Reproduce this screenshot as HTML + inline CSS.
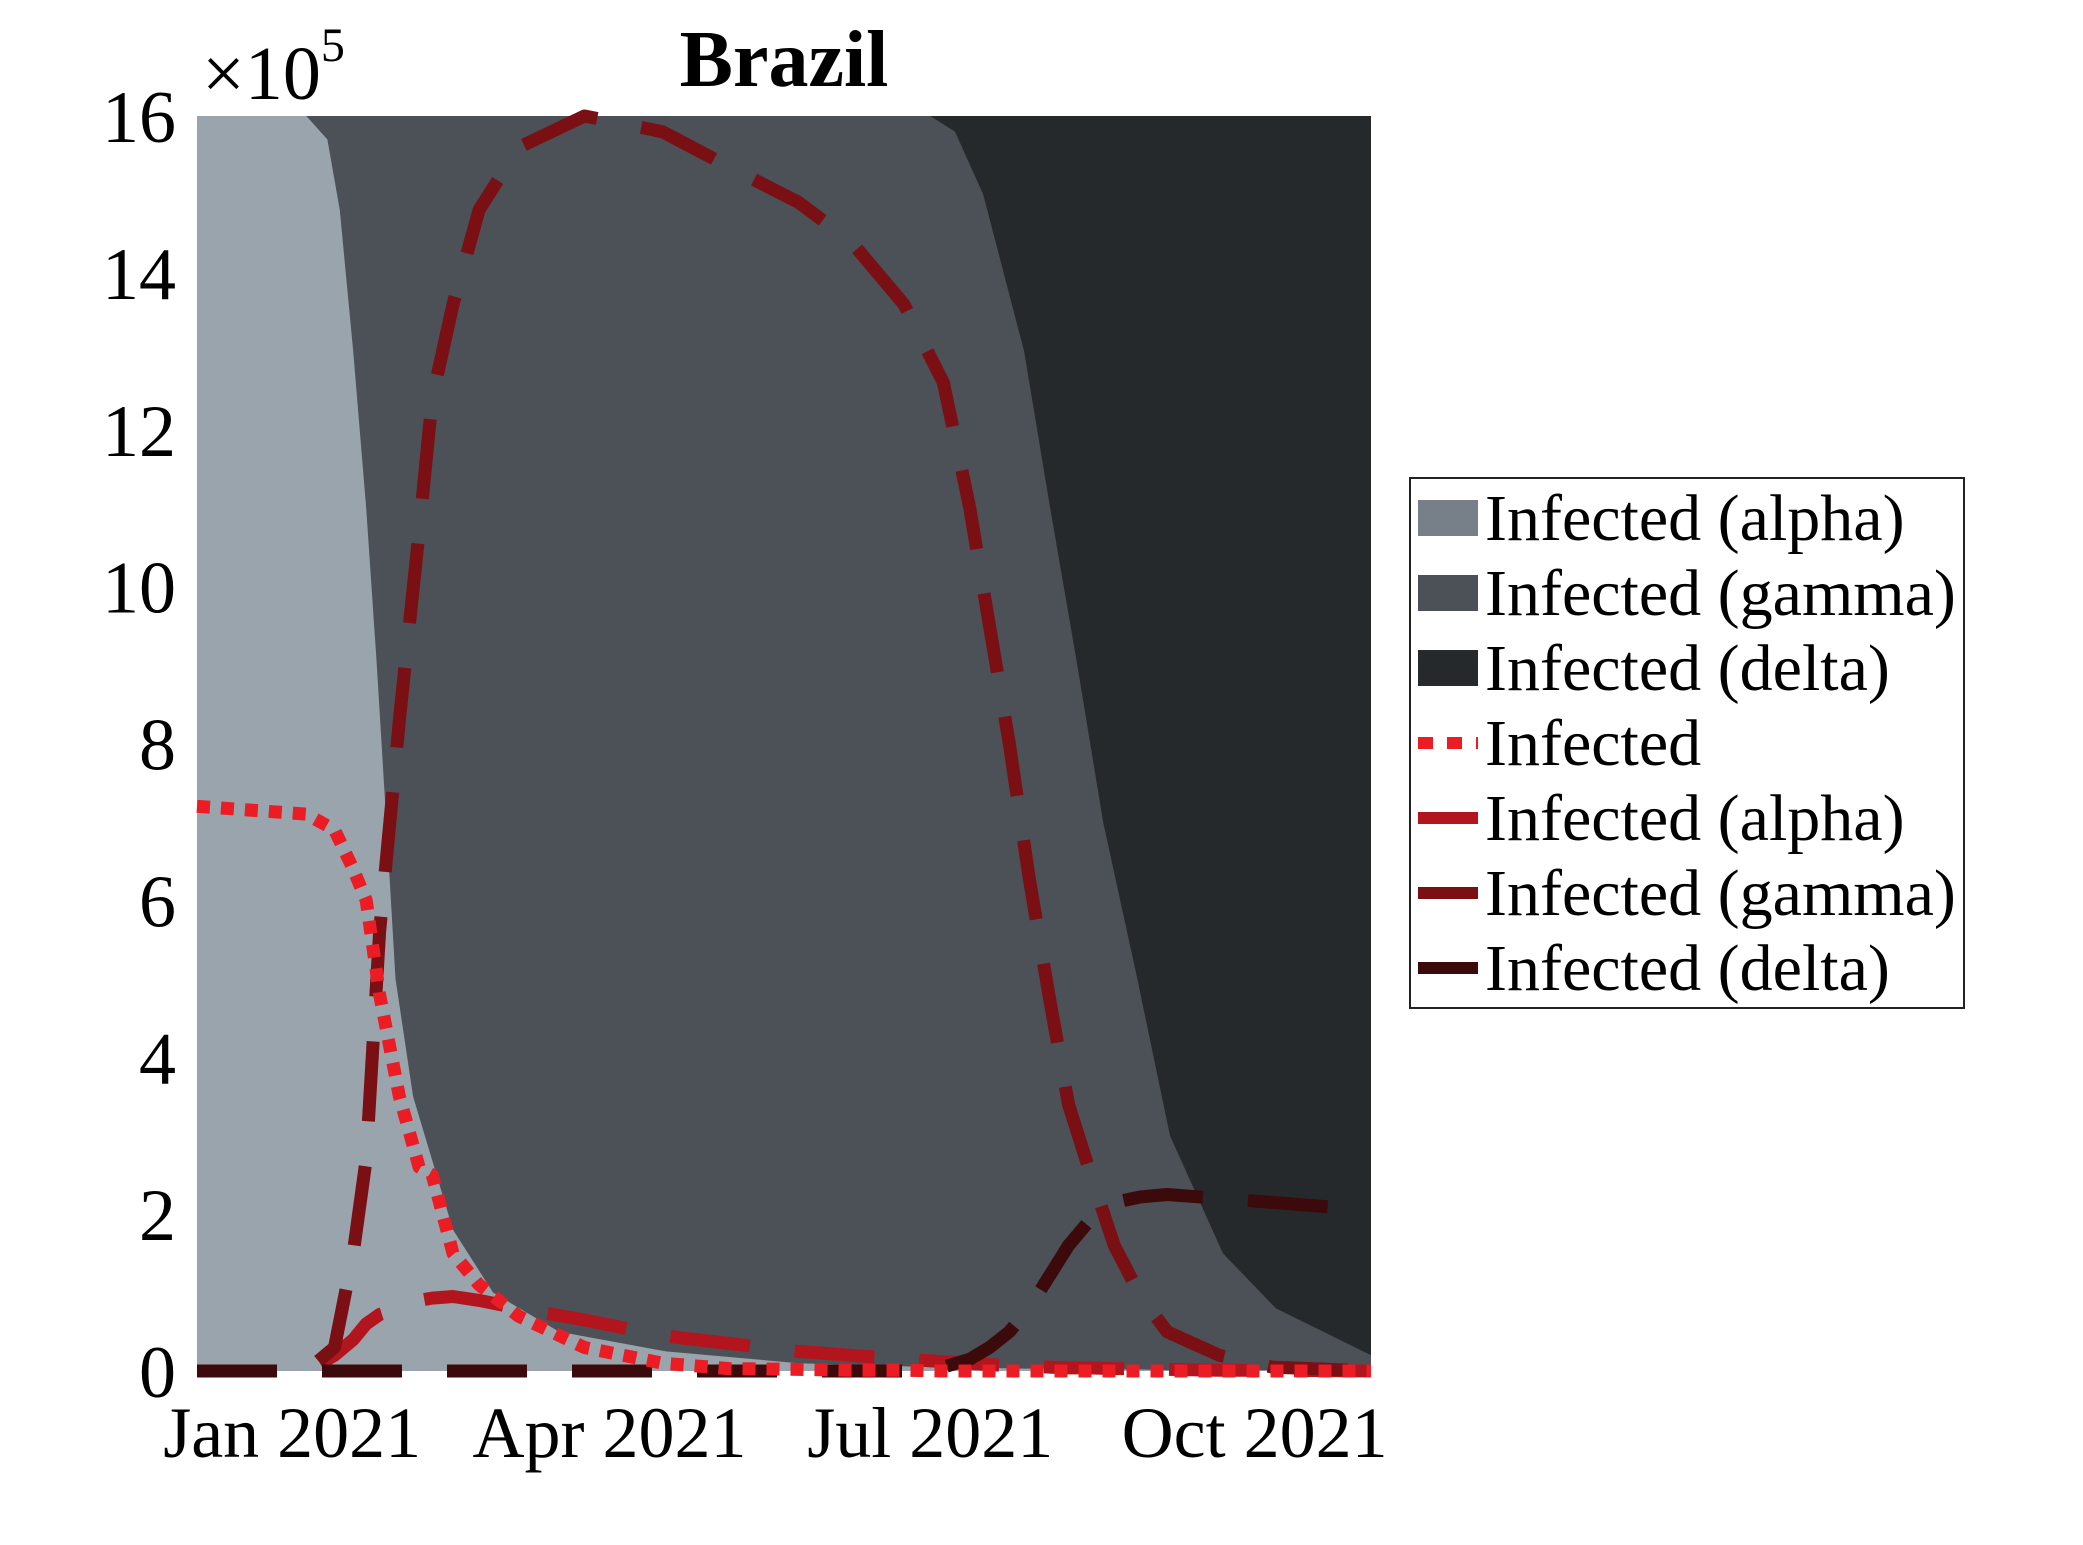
<!DOCTYPE html>
<html><head><meta charset="utf-8"><style>
body{margin:0;background:#fff}
svg text{font-family:"Liberation Serif",serif}
</style></head><body>
<svg width="2083" height="1540" viewBox="0 0 2083 1540" xmlns="http://www.w3.org/2000/svg">
<g id="plot"></g>
<text x="784" y="86" font-size="80" font-weight="bold" text-anchor="middle">Brazil</text>
<text x="202" y="99" font-size="76">×10<tspan font-size="48" dy="-38">5</tspan></text>
<g id="yticks"></g>
<g id="xticks"></g>
<g id="legend"></g>
</svg>
<script>
const NS='http://www.w3.org/2000/svg';
const areaDays=[-27,4,10,13.5,17.3,21,24,26.7,29.3,34.3,45.6,57,75.7,106,143.6,181,188,196,207.6,215,222.7,230,239.7,249,264,279,306];
const alphaArea=[16,16,15.7,14.8,13,11,9,7,5,3.5,1.8,1.0,0.5,0.25,0.1,0.05,0.04,0.04,0.03,0.03,0.02,0.02,0.02,0.01,0.01,0.01,0];
const topGammaArea=[16,16,16,16,16,16,16,16,16,16,16,16,16,16,16,16,15.8,15,13,11,9,7,5,3,1.5,0.8,0.2];
const lineDays=[-27,4,12,17.3,21,24.8,30.4,36,39.7,45.6,53,64.2,82.9,105,124,143.6,158.5,173.5,184.7,192.2,197.8,203.4,209,214.6,220.2,225.8,233.2,240.7,248.2,263,278,306];
const totalLine=[7.2,7.1,6.9,6.4,6.0,4.8,3.5,2.6,2.5,1.5,1.1,0.7,0.3,0.1,0.03,0.02,0.01,0.01,0,0,0,0,0,0,0,0,0,0,0,0,0,0];
const alphaLine=[0,0,0.2,0.4,0.6,0.72,0.8,0.9,0.93,0.95,0.9,0.8,0.65,0.45,0.35,0.25,0.2,0.15,0.12,0.1,0.08,0.07,0.06,0.05,0.04,0.04,0.03,0.03,0.02,0.01,0.01,0];
const gammaLine=[0,0,0.3,1.5,2.7,5.6,8.3,10.7,12.4,13.6,14.8,15.6,16.0,15.8,15.35,14.9,14.4,13.6,12.6,11.0,9.5,8.0,6.3,4.8,3.4,2.6,1.6,0.95,0.5,0.2,0.05,0];
const deltaLine=[0,0,0,0,0,0,0,0,0,0,0,0,0,0,0,0,0,0,0.05,0.15,0.3,0.5,0.8,1.2,1.6,1.9,2.15,2.22,2.25,2.2,2.15,2.05];
const yTicks=[0,2,4,6,8,10,12,14,16];
const xTickDays=[0,90,181,273];
const xTickLabels=['Jan 2021','Apr 2021','Jul 2021','Oct 2021'];
const legendLabels=['Infected (alpha)','Infected (gamma)','Infected (delta)','Infected','Infected (alpha)','Infected (gamma)','Infected (delta)'];

const X0=197,X1=1371,Y0=1371,Y1=116,D0=-27,D1=306;
const xs=d=>X0+(d-D0)/(D1-D0)*(X1-X0);
const ys=v=>Y0-v/16*(Y0-Y1);
function el(t,a,p){const e=document.createElementNS(NS,t);for(const k in a)e.setAttribute(k,a[k]);p.appendChild(e);return e;}
const plot=document.getElementById('plot');
function ptsOf(d,v){return d.map((x,i)=>xs(x).toFixed(1)+','+ys(v[i]).toFixed(1));}
let a=el('rect',{x:X0,y:Y1,width:X1-X0,height:Y0-Y1,fill:'#26292c'},plot);

let g=el('polygon',{points:ptsOf(areaDays,topGammaArea).join(' ')+` ${X1},${Y0} ${X0},${Y0}`,fill:'#4c5157'},plot);

let al=el('polygon',{points:ptsOf(areaDays,alphaArea).join(' ')+` ${X1},${Y0} ${X0},${Y0}`,fill:'#99a4ad'},plot);

const series=[[alphaLine,'#b3151f','80 45','line-alpha'],[gammaLine,'#7a0f14','80 45','line-gamma'],[deltaLine,'#3d0a0c','80 45','line-delta'],[totalLine,'#ec1c24','13 11','line-total']];
series.forEach(s=>{const p=el('polyline',{points:ptsOf(lineDays,s[0]).join(' '),fill:'none',stroke:s[1],'stroke-width':13,'stroke-dasharray':s[2],'stroke-linejoin':'round'},plot);
});
const yt=document.getElementById('yticks');
yTicks.forEach(v=>{const t=el('text',{x:176,y:ys(v)+26,'font-size':74,'text-anchor':'end'},yt);t.textContent=v;
});
const xt=document.getElementById('xticks');
xTickDays.forEach((d,i)=>{const t=el('text',{x:xs(d),y:1457,'font-size':72,'text-anchor':'middle'},xt);t.textContent=xTickLabels[i];
});
const lg=document.getElementById('legend');
let box=el('rect',{x:1410,y:478,width:554,height:530,fill:'#fff',stroke:'#222','stroke-width':2},lg);

const sw=['#777f88','#4c5157','#26292c','#ec1c24','#b3151f','#7a0f14','#3d0a0c'];
legendLabels.forEach((l,i)=>{const cy=518+i*75;
if(i<3){const r=el('rect',{x:1418,y:cy-18,width:60,height:36,fill:sw[i]},lg);}
else{const ln=el('line',{x1:1418,x2:1478,y1:cy,y2:cy,stroke:sw[i],'stroke-width':12,'stroke-dasharray':i==3?'15 14':'none'},lg);}
const t=el('text',{x:1485,y:cy+22,'font-size':66},lg);t.textContent=l;
});
</script>
</body></html>
